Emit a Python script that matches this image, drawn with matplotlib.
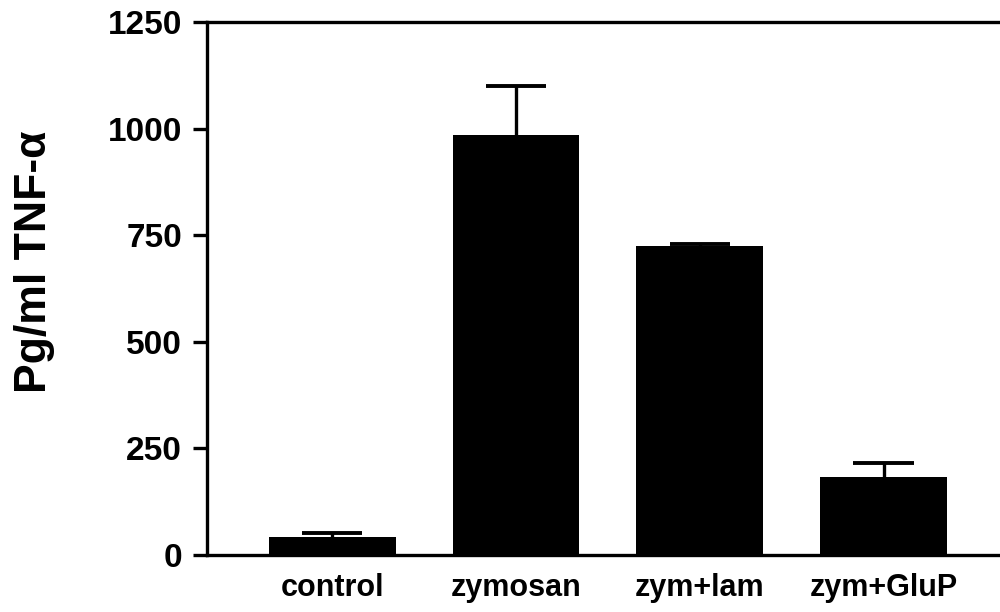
import numpy as np
import matplotlib.pyplot as plt

# data
groups = ["control", "zymosan", "zym+lam", "zym+GluP"]
tnf_mean = [42, 985, 725, 183]
tnf_err = [10, 115, 4, 33]

plt.rcParams["font.family"] = ["Liberation Sans", "DejaVu Sans"]
plt.rcParams["font.weight"] = "bold"

fig = plt.figure(figsize=(10, 6.12), dpi=100)
ax = fig.add_axes([0.207, 0.093, 0.80, 0.871])

x = np.arange(len(groups))
mean = np.array(tnf_mean)
top = mean + np.array(tnf_err)

ax.bar(x, mean, width=0.69, color="black", zorder=2)

# upper error bars only (stem + cap)
cap_half = 0.165
ax.vlines(x, mean, top, color="black", linewidth=2.4, zorder=1)
ax.hlines(top, x - cap_half, x + cap_half, color="black", linewidth=2.8, zorder=1)

ax.set_xlim(-0.68, 3.67)
ax.set_ylim(0, 1250)
ax.set_yticks([0, 250, 500, 750, 1000, 1250])
ax.set_xticks(x)
ax.set_xticklabels(groups, fontsize=22, fontweight="bold")

ax.tick_params(axis="y", direction="out", length=10, width=2.4,
               labelsize=24, pad=8)
ax.tick_params(axis="x", length=0, pad=13)

for side in ["left", "bottom", "top"]:
    ax.spines[side].set_linewidth(2.4)
    ax.spines[side].set_color("black")
ax.spines["right"].set_visible(False)

ax.set_ylabel("Pg/ml TNF-α", fontsize=32, fontweight="bold")
ax.yaxis.set_label_coords(-0.19, 0.55)

fig.savefig("out.png", dpi=100)
